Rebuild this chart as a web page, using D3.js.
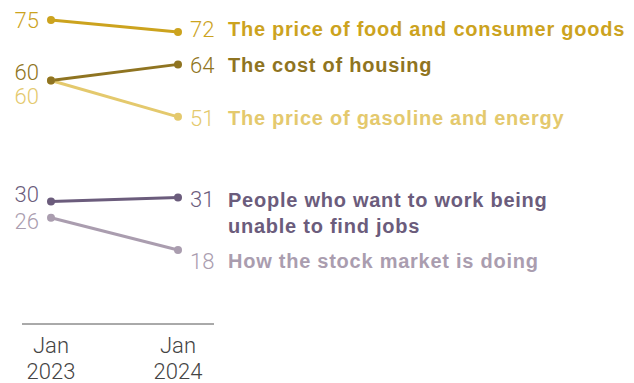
<!DOCTYPE html>
<html>
<head>
<meta charset="utf-8">
<script src="https://cdn.jsdelivr.net/npm/d3@7"></script>
<style>
  html, body { margin: 0; padding: 0; background: #fff; }
  svg { display: block; }
</style>
</head>
<body>
<svg id="chart" width="634" height="383"></svg>
<script>
// Share saying each is a major problem, Jan 2023 vs Jan 2024
const periods = ["Jan 2023", "Jan 2024"];
const tickLines = [["Jan", "2023"], ["Jan", "2024"]];
const seriesNames = [
  "The price of food and consumer goods",
  "The cost of housing",
  "The price of gasoline and energy",
  "People who want to work being unable to find jobs",
  "How the stock market is doing"
];
const labelLines = [
  ["The price of food and consumer goods"],
  ["The cost of housing"],
  ["The price of gasoline and energy"],
  ["People who want to work being", "unable to find jobs"],
  ["How the stock market is doing"]
];
const values2023 = [75, 60, 60, 30, 26];
const values2024 = [72, 64, 51, 31, 18];
const colors = ["#CCA31E", "#8F7421", "#E4C96D", "#6B5C7C", "#AA9DAF"];
// label offsets in px (start label / end label) to keep labels apart
const startNudge = [0, -8, 16, -7, 4];
const endNudge = [-3, 1, 1, 2, 11];

const svg = d3.select("#chart");

const x = d3.scalePoint().domain(periods).range([51, 178]);
const y = d3.scaleLinear().domain([18, 75]).range([250, 20]);

const data = seriesNames.map((name, i) => ({
  name, color: colors[i], lines: labelLines[i],
  pts: [{p: periods[0], v: values2023[i]}, {p: periods[1], v: values2024[i]}],
  s: startNudge[i], e: endNudge[i]
}));

const numFont = "'Roboto', 'Liberation Sans', sans-serif";
const labFont = "'Liberation Sans', Arial, sans-serif";

const line = d3.line().x(d => x(d.p)).y(d => y(d.v));

const g = svg.append("g");

// draw in reverse so upper series sit on top
const order = data.slice().reverse();

g.selectAll("path.series").data(order).join("path")
  .attr("class", "series")
  .attr("d", d => line(d.pts))
  .attr("fill", "none")
  .attr("stroke", d => d.color)
  .attr("stroke-width", 3);

g.selectAll("g.dots").data(order).join("g")
  .attr("class", "dots")
  .selectAll("circle").data(d => d.pts.map(p => ({...p, color: d.color}))).join("circle")
  .attr("cx", d => x(d.p)).attr("cy", d => y(d.v)).attr("r", 4)
  .attr("fill", d => d.color);

// start values
g.selectAll("text.startVal").data(data).join("text")
  .attr("class", "startVal")
  .attr("x", x(periods[0]) - 12)
  .attr("y", d => y(d.pts[0].v) + d.s)
  .attr("dy", "0.35em")
  .attr("text-anchor", "end")
  .attr("font-family", numFont)
  .attr("font-weight", 300)
  .attr("font-size", 22)
  .attr("fill", d => d.color)
  .text(d => d.pts[0].v);

// end values
g.selectAll("text.endVal").data(data).join("text")
  .attr("class", "endVal")
  .attr("x", x(periods[1]) + 12)
  .attr("y", d => y(d.pts[1].v) + d.e)
  .attr("dy", "0.35em")
  .attr("font-family", numFont)
  .attr("font-weight", 300)
  .attr("font-size", 22)
  .attr("fill", d => d.color)
  .text(d => d.pts[1].v);

// series labels
const labX = x(periods[1]) + 50;
const lab = g.selectAll("text.label").data(data).join("text")
  .attr("class", "label")
  .attr("x", labX)
  .attr("y", d => y(d.pts[1].v) + d.e)
  .attr("font-family", labFont)
  .attr("font-weight", 700)
  .attr("font-size", 20)
  .attr("letter-spacing", 0.75)
  .attr("fill", d => d.color);
lab.selectAll("tspan").data(d => d.lines).join("tspan")
  .attr("x", labX)
  .attr("dy", (t, i) => i === 0 ? "0.35em" : 26)
  .text(t => t);

// x axis
const axisY = 324;
g.append("line")
  .attr("x1", 22).attr("x2", 214)
  .attr("y1", axisY).attr("y2", axisY)
  .attr("stroke", "#555").attr("stroke-width", 1);

const ticks = g.selectAll("text.tick").data(periods).join("text")
  .attr("class", "tick")
  .attr("x", d => x(d))
  .attr("y", 353)
  .attr("text-anchor", "middle")
  .attr("font-family", numFont)
  .attr("font-weight", 300)
  .attr("font-size", 22)
  .attr("fill", "#444");
ticks.selectAll("tspan").data((d, i) => tickLines[i]).join("tspan")
  .attr("x", function() { return this.parentNode.getAttribute("x"); })
  .attr("dy", (t, i) => i === 0 ? 0 : 26)
  .text(t => t);
</script>
</body>
</html>
